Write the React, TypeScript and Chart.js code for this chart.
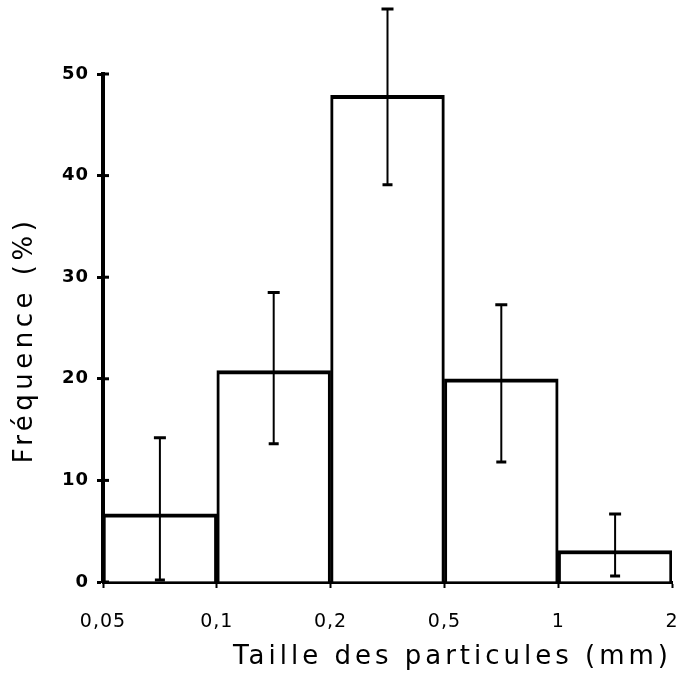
import React, { useEffect, useRef } from "react";
import { Chart, registerables } from "chart.js";

Chart.register(...registerables);

const categories = ["0,05–0,1", "0,1–0,2", "0,2–0,5", "0,5–1", "1–2"];
const tickLabels = ["0,05", "0,1", "0,2", "0,5", "1", "2"];
const frequencies = [6.7, 20.8, 47.9, 20.0, 3.1];
const errLow = [0.2, 13.6, 39.1, 11.8, 0.6];
const errHigh = [14.2, 28.5, 56.4, 27.3, 6.7];
const yTicks = [0, 10, 20, 30, 40, 50];

const FONT = "'DejaVu Sans', sans-serif";

function patch(s: any, fn: string, spacing: string, dx = 0, dy = 0) {
  const key = "__patched_" + fn;
  if (s[key]) return;
  const orig = s[fn];
  s[fn] = function (...args: any[]) {
    const ctx = this.ctx;
    ctx.save();
    (ctx as any).letterSpacing = spacing;
    ctx.translate(dx, dy);
    const r = orig.apply(this, args);
    ctx.restore();
    return r;
  };
  s[key] = true;
}

const errorBarPlugin = {
  id: "errorBars",
  afterDatasetsDraw(chart: any) {
    const { ctx, scales } = chart;
    const xs = scales.x;
    const ys = scales.y;
    ctx.save();
    ctx.strokeStyle = "#000";
    categories.forEach((_, i) => {
      const x = xs.getPixelForValue(i + 0.5);
      const yl = ys.getPixelForValue(errLow[i]);
      const yh = ys.getPixelForValue(errHigh[i]);
      ctx.lineWidth = 2;
      ctx.beginPath();
      ctx.moveTo(x, yl);
      ctx.lineTo(x, yh);
      ctx.stroke();
      ctx.lineWidth = 3;
      ctx.beginPath();
      ctx.moveTo(x - 6, yh);
      ctx.lineTo(x + 6, yh);
      ctx.moveTo(x - 5, yl);
      ctx.lineTo(x + 5, yl);
      ctx.stroke();
    });
    // inner tick marks on the y axis
    ctx.lineWidth = 3;
    yTicks.forEach((t) => {
      const y = ys.getPixelForValue(t);
      ctx.beginPath();
      ctx.moveTo(xs.left, y);
      ctx.lineTo(xs.left + 6, y);
      ctx.stroke();
    });
    ctx.restore();
  },
};

export default function App() {
  const ref = useRef<HTMLCanvasElement | null>(null);
  useEffect(() => {
    document.body.style.margin = "0";
    const chart = new Chart(ref.current as HTMLCanvasElement, {
      type: "bar",
      data: {
        datasets: [
          {
            label: "Fréquence",
            data: frequencies.map((v, i) => ({ x: i + 0.5, y: v })) as any,
            backgroundColor: "#fff",
            borderColor: "#000",
            borderWidth: { top: 4, left: 3, right: 3, bottom: 0 } as any,
            borderSkipped: "bottom",
            barPercentage: 1,
            categoryPercentage: 1,
          },
        ],
      },
      options: {
        animation: false,
        responsive: false,
        maintainAspectRatio: false,
        layout: { padding: { top: 74, right: 0, left: 0, bottom: 0 } },
        plugins: { legend: { display: false }, tooltip: { enabled: false } },
        scales: {
          x: {
            type: "linear",
            min: 0,
            max: 5,
            offset: false,
            grid: {
              display: true,
              drawOnChartArea: false,
              drawTicks: true,
              tickLength: 6,
              tickWidth: 2,
              tickColor: "#000",
              offset: false,
            },
            border: { display: true, color: "#000", width: 3 },
            ticks: {
              stepSize: 1,
              color: "#000",
              padding: 18,
              font: { family: FONT, size: 19 },
              callback: (v: any) => tickLabels[v as number] ?? "",
              maxRotation: 0,
              autoSkip: false,
            },
            title: {
              display: true,
              text: "Taille des particules (mm)",
              align: "end",
              color: "#000",
              font: { family: FONT, size: 26 },
              padding: { top: 0, bottom: 6 },
            },
            afterFit: (s: any) => {
              s.height = 97;
              s.paddingRight = 4;
              patch(s, "drawTitle", "4px", 0, 0);
              patch(s, "drawLabels", "1px", 0, 5);
            },
          },
          y: {
            min: 0,
            max: 50,
            grid: {
              display: true,
              drawOnChartArea: false,
              drawTicks: true,
              tickLength: 6,
              tickWidth: 3,
              tickColor: "#000",
            },
            border: { display: true, color: "#000", width: 4 },
            ticks: {
              stepSize: 10,
              color: "#000",
              padding: 8,
              font: { family: FONT, size: 18, weight: "bold" },
            },
            title: {
              display: true,
              text: "Fréquence (%)",
              color: "#000",
              font: { family: FONT, size: 26 },
              padding: { top: 10, bottom: 0 },
            },
            afterFit: (s: any) => {
              s.width = 103;
              patch(s, "drawTitle", "4.5px", 0, 12);
              patch(s, "drawLabels", "1px", 0, 0);
            },
          },
        },
      },
      plugins: [errorBarPlugin],
    });
    return () => chart.destroy();
  }, []);
  return (
    <div style={{ width: 676, height: 679 }}>
      <canvas ref={ref} width={676} height={679} style={{ width: 676, height: 679 }} />
    </div>
  );
}
